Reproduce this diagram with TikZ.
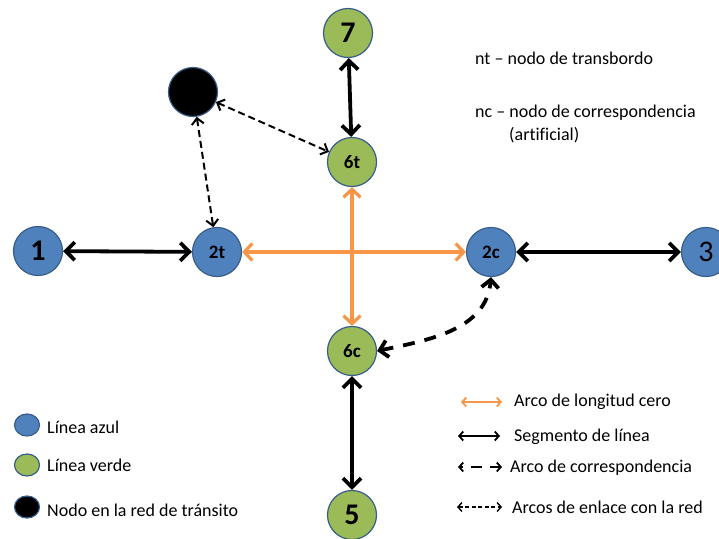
\documentclass[tikz,border=0pt]{standalone}
\usepackage{fontspec}
\setmainfont{Carlito}[Ligatures=CommonOff]
\usetikzlibrary{arrows.meta,shapes.geometric}
\definecolor{nblue}{HTML}{4F81BD}
\definecolor{ngreen}{HTML}{9BBB59}
\definecolor{nedge}{HTML}{385D8A}
\definecolor{norange}{HTML}{F79646}
\begin{document}
\begin{tikzpicture}[x=1pt,y=-1pt,
  nd/.style={circle,draw=nedge,line width=1.2pt,minimum size=49pt,inner sep=0pt,font=\bfseries\fontsize{19}{19}\selectfont},
  big/.style={font=\bfseries\fontsize{30}{30}\selectfont},
  bl/.style={nd,fill=nblue},
  gr/.style={nd,fill=ngreen},
  bk/.style={nd,fill=black},
  seg/.style={line width=3.8pt,{Straight Barb[length=9pt,width=18pt]}-{Straight Barb[length=9pt,width=18pt]}},
  zero/.style={draw=norange,line width=3.2pt,{Straight Barb[length=8pt,width=17pt]}-{Straight Barb[length=8pt,width=17pt]}},
  corr/.style={line width=3.8pt,dash pattern=on 12pt off 10pt,{Straight Barb[length=8pt,width=17pt]}-{Straight Barb[length=8pt,width=17pt]}},
  link/.style={line width=2pt,dash pattern=on 7pt off 4pt,{Straight Barb[length=6pt,width=12pt]}-{Straight Barb[length=6pt,width=12pt]}},
  lg/.style={anchor=west,inner sep=0pt,font=\fontsize{18}{18}\selectfont},
  lgd/.style={ellipse,draw=nedge,line width=1.2pt,minimum width=25pt,minimum height=22pt,inner sep=0pt},
  ltip/.style={{Straight Barb[length=4pt,width=9pt]}-{Straight Barb[length=4pt,width=9pt]}}
]
\useasboundingbox (0,0) rectangle (719,538);
\node[bl,big] (n1) at (38,251) {1};
\node[bl] (n2t) at (217,252) {2t};
\node[bl] (n2c) at (491,252) {2c};
\node[bl,font=\fontsize{30}{30}\selectfont] (n3) at (706,252) {3};
\node[gr,big] (n7) at (348,33) {7};
\node[gr] (n6t) at (352,162) {6t};
\node[gr] (n6c) at (352,351) {6c};
\node[gr,big] (n5) at (352,515) {5};
\node[bk] (nb) at (193,92) {};

\draw[seg] (n1) -- (n2t);
\draw[seg] (n2c) -- (n3);
\draw[seg] (n7) -- (n6t);
\draw[seg] (n6c) -- (n5);
\draw[zero] (n2t) -- (n2c);
\draw[zero] (n6t) -- (n6c);
\draw[corr] (n6c.east) to[out=12,in=-95] (n2c.south);
\draw[link] (nb) -- (n6t);
\draw[link] (nb) -- (n2t);

\node[lg] (t1) at (475,58) {nt – nodo de transbordo};
\node[lg] (t2) at (475,113) {nc – nodo de correspondencia};
\node[lg] (t3) at (509,135) {(artificial)};

\node[lgd,fill=nblue] (l1) at (27,425) {};
\node[lgd,fill=ngreen] (l2) at (27,465) {};
\node[lgd,fill=black] (l3) at (27,507) {};
\node[lg] (lt1) at (47,427) {Línea azul};
\node[lg] (lt2) at (47,465) {Línea verde};
\node[lg] (lt3) at (47,510) {Nodo en la red de tránsito};

\coordinate (a1) at (461,402); \coordinate (b1) at (502,402);
\coordinate (a2) at (458,436); \coordinate (b2) at (500,436);
\coordinate (a3) at (458,467); \coordinate (b3) at (502,467);
\coordinate (a4) at (457,507); \coordinate (b4) at (502,507);
\draw[draw=norange,line width=1.8pt,ltip] (a1) -- (b1);
\draw[line width=1.8pt,ltip] (a2) -- (b2);
\draw[line width=1.8pt,dash pattern=on 3pt off 8pt on 11pt off 8pt on 10pt,ltip] (a3) -- (b3);
\draw[line width=1.4pt,dash pattern=on 4pt off 2.5pt,ltip] (a4) -- (b4);
\node[lg] (r1) at (514,402) {Arco de longitud cero};
\node[lg] (r2) at (514,437) {Segmento de línea};
\node[lg] (r3) at (510,468) {Arco de correspondencia};
\node[lg] (r4) at (512,507) {Arcos de enlace con la red};
\end{tikzpicture}
\end{document}
